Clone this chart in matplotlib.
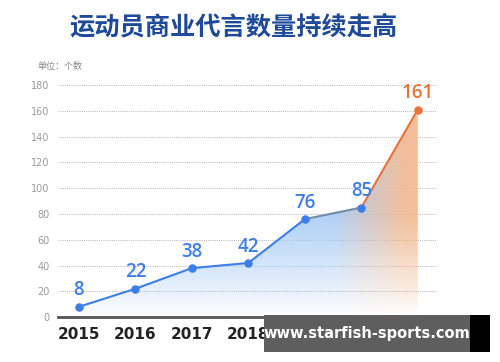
import numpy as np
import matplotlib.pyplot as plt
from matplotlib.colors import to_rgb
from matplotlib.patches import Rectangle

plt.rcParams['font.family'] = ['Noto Sans CJK SC', 'DejaVu Sans']

# 数据
annees = [2015, 2016, 2017, 2018, 2019, 2020, 2021]
valeurs = [8, 22, 38, 42, 76, 85, 161]
yticks = [0, 20, 40, 60, 80, 100, 120, 140, 160, 180]

bleu = "#3d7ee8"
orange = "#e9733a"

fig = plt.figure(figsize=(5, 3.62), dpi=100)
ax = fig.add_axes([0.116, 0.124, 0.758, 0.641])
ax.set_xlim(2014.63, 2021.34)
ax.set_ylim(0, 180)

# Remplissage en dégradé (bleu -> orange, fondu vers le bas)
poly = ax.fill_between(annees, valeurs, 0, color='none')
nx, ny = 300, 200
xs = np.linspace(2015, 2021, nx)
ys = np.linspace(0, 161, ny)
c_bleu = np.array(to_rgb("#a6cbf5"))
c_orange = np.array(to_rgb("#f2b78e"))
t = np.clip((xs - 2019.5) / 1.3, 0, 1)
cols = c_bleu[None, :] * (1 - t[:, None]) + c_orange[None, :] * t[:, None]
img = np.ones((ny, nx, 4))
img[:, :, :3] = cols[None, :, :]
alpha = np.clip(ys / 80, 0, 1) ** 0.9
img[:, :, 3] = alpha[:, None] * 0.9
im = ax.imshow(img, extent=[2015, 2021, 0, 161], origin='lower',
               aspect='auto', zorder=1, interpolation='bilinear')
im.set_clip_path(poly.get_paths()[0], transform=ax.transData)

# Courbe
ax.plot(annees[:5], valeurs[:5], color=bleu, linewidth=1.5, zorder=3)
ax.plot(annees[4:6], valeurs[4:6], color="#6f8cab", linewidth=1.5, zorder=3)
ax.plot(annees[5:], valeurs[5:], color=orange, linewidth=1.5, zorder=3)
ax.scatter(annees[:6], valeurs[:6], s=26, color=bleu, zorder=4)
ax.scatter(annees[6:], valeurs[6:], s=26, color=orange, zorder=4)

# Étiquettes de valeurs
for i, (a, v) in enumerate(zip(annees, valeurs)):
    c = orange if i == len(valeurs) - 1 else bleu
    ax.text(a, v + 5, str(v), ha='center', va='bottom', fontsize=13.5,
            color=c, family='Open Sans', fontweight='semibold', zorder=5)

# Grille et axes
ax.set_yticks(yticks)
ax.grid(axis='y', linestyle=(0, (1, 1.2)), color='#b5b5b5', linewidth=0.7)
ax.set_axisbelow(True)
for s in ['top', 'right', 'left']:
    ax.spines[s].set_visible(False)
ax.spines['bottom'].set_color('#555555')
ax.spines['bottom'].set_linewidth(2)
ax.tick_params(axis='y', length=0, labelsize=7, labelcolor='#9a9a9a', pad=6)
ax.tick_params(axis='x', length=0, labelsize=11, labelcolor='#222222', pad=7)
ax.set_xticks(annees)
ax.set_xticklabels([str(a) for a in annees], fontweight='bold', family='DejaVu Sans')
for lab in ax.get_yticklabels():
    lab.set_family('DejaVu Sans')

# Titre et unité
fig.text(0.466, 0.925, "运动员商业代言数量持续走高", ha='center', va='center',
         fontsize=18.2, fontweight='bold', color='#1f4a9a')
fig.text(0.074, 0.815, "单位：个数", ha='left', va='center', fontsize=6.5,
         color='#888888')

# Filigrane
fig.add_artist(Rectangle((0.528, 0.028), 0.412, 0.102, transform=fig.transFigure,
                         facecolor='#5e5e5e', edgecolor='none', zorder=9))
fig.add_artist(Rectangle((0.94, 0.028), 0.04, 0.102, transform=fig.transFigure,
                         facecolor='black', edgecolor='none', zorder=9))
fig.text(0.734, 0.079, "www.starfish-sports.com", ha='center', va='center',
         fontsize=10.5, fontweight='bold', color='white', family='DejaVu Sans',
         zorder=10)

fig.savefig("out.png", dpi=100)
